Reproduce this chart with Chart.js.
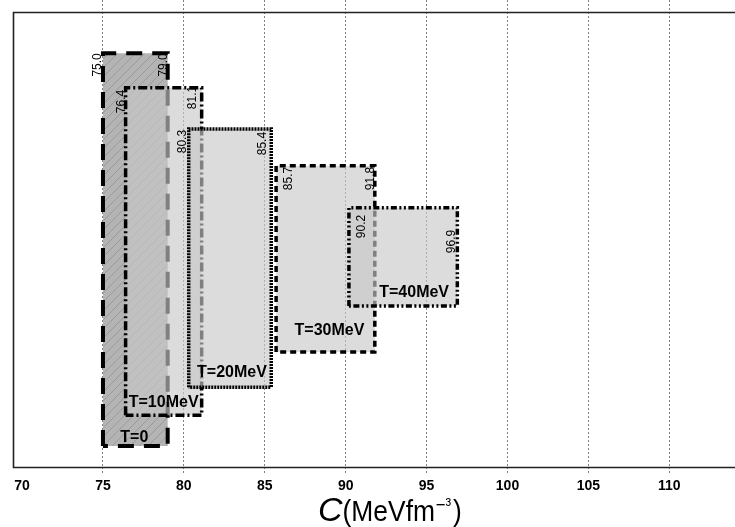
<!DOCTYPE html>
<html>
<head>
<meta charset="utf-8">
<script src="https://cdn.jsdelivr.net/npm/chart.js@4/dist/chart.umd.min.js"></script>
<style>
  html, body { margin: 0; padding: 0; background: #fff; }
  #wrap { width: 735px; height: 527px; position: relative; }
</style>
</head>
<body>
<div id="wrap"><canvas id="chart"></canvas></div>
<script>
// Allowed range of the incompressibility C for each temperature
const temperatures = ['T=0', 'T=10MeV', 'T=20MeV', 'T=30MeV', 'T=40MeV'];
const cLow  = [75.0, 76.4, 80.3, 85.7, 90.2];
const cHigh = [79.0, 81.1, 85.4, 91.8, 96.9];
// vertical extent of each band (arbitrary units, axis hidden)
const bandTop    = [88.6, 81.2, 72.4, 64.5, 55.5];
const bandBottom = [4.5, 11.1, 17.1, 24.6, 34.5];
const xTicks = [70, 75, 80, 85, 90, 95, 100, 105, 110];

// edge styles per band
const edgeDash  = [[16, 10], [9, 3, 2, 3], [2, 1], [6, 4], [6, 2.5, 2, 2.5, 2, 2.5]];
const edgeWidth = [4, 3.5, 3.5, 3.5, 3.5];
// label placement tweaks (pixels)
const lowLabelDx  = [-2, -1, -3, 16, 16];
const lowLabelDy  = [0, 2, 1, 1, 7];
const highLabelDx = [-1, -6, -5, -1, -2];
const highLabelDy = [0, -2, 3, 1, 22];
const nameDx = [-1, 0, 2, 4, 11];
const nameDy = [4, 8, 10, 17, 9];

const FONT = '"Liberation Sans", Arial, sans-serif';

function hatchPattern() {
  const s = 9;
  const c = document.createElement('canvas');
  c.width = s; c.height = s;
  const g = c.getContext('2d');
  g.fillStyle = '#b4b4b4';
  g.fillRect(0, 0, s, s);
  g.strokeStyle = '#979797';
  g.lineWidth = 0.9;
  g.beginPath();
  g.moveTo(0, s); g.lineTo(s, 0);
  g.moveTo(-2, 2); g.lineTo(2, -2);
  g.moveTo(s - 2, s + 2); g.lineTo(s + 2, s - 2);
  g.stroke();
  return g.createPattern(c, 'repeat');
}

const datasets = temperatures.map((name, i) => ({
  label: name,
  data: [
    { x: cLow[i],  y: bandBottom[i] },
    { x: cLow[i],  y: bandTop[i] },
    { x: cHigh[i], y: bandTop[i] },
    { x: cHigh[i], y: bandBottom[i] },
    { x: cLow[i],  y: bandBottom[i] }
  ],
  showLine: true,
  fill: 'shape',
  backgroundColor: i === 0 ? hatchPattern() : 'rgba(200,200,200,0.64)',
  borderColor: '#000',
  borderWidth: edgeWidth[i],
  borderDash: edgeDash[i],
  borderCapStyle: 'butt',
  borderJoinStyle: 'miter',
  pointRadius: 0,
  pointHoverRadius: 0,
  tension: 0,
  order: temperatures.length - i
}));

const decorations = {
  id: 'decorations',
  afterDraw(chart) {
    const ctx = chart.ctx;
    const xs = chart.scales.x, ys = chart.scales.y;
    const a = chart.chartArea;

    // frame
    ctx.save();
    ctx.strokeStyle = '#222';
    ctx.lineWidth = 1.6;
    ctx.beginPath();
    ctx.moveTo(a.right + 2, 12.5);
    ctx.lineTo(a.left + 0.5, 12.5);
    ctx.lineTo(a.left + 0.5, a.bottom + 0.5);
    ctx.lineTo(a.right + 2, a.bottom + 0.5);
    ctx.stroke();
    ctx.restore();

    // bound values, written vertically
    ctx.save();
    ctx.fillStyle = '#000';
    ctx.font = '12px ' + FONT;
    ctx.textAlign = 'right';
    ctx.textBaseline = 'alphabetic';
    temperatures.forEach((name, i) => {
      const top = ys.getPixelForValue(bandTop[i]);
      const pairs = [
        [xs.getPixelForValue(cLow[i]) + lowLabelDx[i], top + lowLabelDy[i], cLow[i]],
        [xs.getPixelForValue(cHigh[i]) + highLabelDx[i], top + highLabelDy[i], cHigh[i]]
      ];
      pairs.forEach(([px, py, v]) => {
        ctx.save();
        ctx.translate(px, py);
        ctx.rotate(-Math.PI / 2);
        ctx.fillText(v.toFixed(1), 0, 0);
        ctx.restore();
      });
    });
    ctx.restore();

    // temperature names
    ctx.save();
    ctx.fillStyle = '#000';
    ctx.font = 'bold 16px ' + FONT;
    ctx.textAlign = 'center';
    ctx.textBaseline = 'alphabetic';
    temperatures.forEach((name, i) => {
      const cx = (xs.getPixelForValue(cLow[i]) + xs.getPixelForValue(cHigh[i])) / 2 + nameDx[i];
      const by = ys.getPixelForValue(bandBottom[i]) - nameDy[i];
      ctx.fillText(name, cx, by);
    });
    ctx.restore();

    // axis title C(MeVfm^-3)
    ctx.save();
    ctx.fillStyle = '#000';
    ctx.textAlign = 'left';
    ctx.textBaseline = 'alphabetic';
    let x = 318;
    const base = 521;
    ctx.font = 'italic 34px ' + FONT;
    ctx.fillText('C', x, base);
    x += ctx.measureText('C').width;
    ctx.translate(x, base);
    ctx.scale(0.88, 1);
    ctx.font = '30px ' + FONT;
    ctx.fillText('(MeVfm', 0, 0);
    let w = ctx.measureText('(MeVfm').width;
    ctx.font = '19px ' + FONT;
    ctx.fillText('\u2212\u00b3', w + 1, -10);
    w += ctx.measureText('\u2212\u00b3').width + 3;
    ctx.font = '30px ' + FONT;
    ctx.fillText(')', w, 0);
    ctx.restore();
  }
};

const gridColor = (c) => (c.tick && c.tick.value === 70) ? 'rgba(0,0,0,0)' : '#808080';

new Chart(document.getElementById('chart'), {
  type: 'scatter',
  data: { datasets },
  options: {
    responsive: true,
    maintainAspectRatio: false,
    animation: false,
    events: [],
    layout: { padding: { left: 13, right: 0, top: 0, bottom: 0 } },
    plugins: { legend: { display: false }, tooltip: { enabled: false } },
    scales: {
      x: {
        type: 'linear',
        min: 69.44,
        max: 114.06,
        z: 1,
        afterBuildTicks: (s) => { s.ticks = xTicks.map(v => ({ value: v })); },
        afterFit: (s) => { s.height = 60; },
        border: { display: false, dash: [2, 2] },
        grid: {
          color: gridColor,
          tickColor: gridColor,
          lineWidth: 1,
          tickLength: 8,
          tickBorderDash: [2, 2]
        },
        ticks: {
          color: '#000',
          padding: 3,
          maxRotation: 0,
          autoSkip: false,
          font: { family: FONT, size: 14, weight: 'bold' },
          callback: (v) => String(v)
        },
        title: { display: false }
      },
      y: {
        type: 'linear',
        min: 0,
        max: 100,
        display: false
      }
    }
  },
  plugins: [decorations]
});
</script>
</body>
</html>
